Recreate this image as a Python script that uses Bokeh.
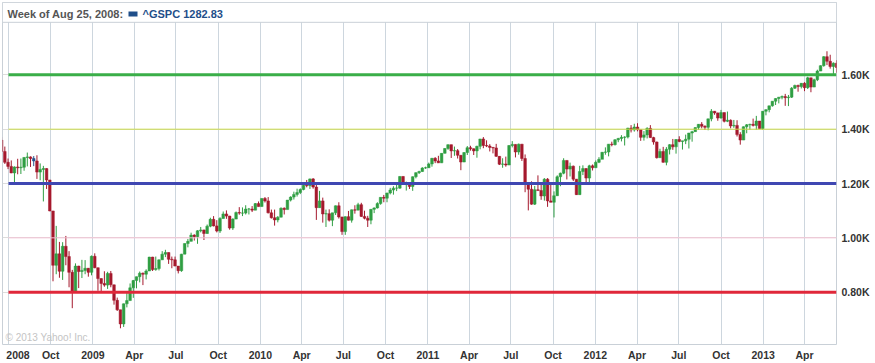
import pandas as pd
from bokeh.plotting import figure
from bokeh.models import (ColumnDataSource, FixedTicker, Label, BoxAnnotation, Range1d)
from bokeh.embed import file_html
from bokeh.resources import INLINE

# ---------------- data: weekly S&P 500 (^GSPC) candles, weeks starting Monday ----------------
first_week = "2008-06-16"

o08 = [1360, 1318, 1278, 1263, 1239, 1261, 1258, 1260, 1296, 1298, 1292, 1283, 1242, 1252, 1255, 1213,
       1099, 899, 941, 877, 969, 931, 873, 800, 896, 876, 880, 888, 873]
h08 = [1371, 1336, 1292, 1285, 1263, 1291, 1292, 1297, 1314, 1300, 1301, 1304, 1274, 1265, 1256, 1213,
       1099, 1044, 985, 984, 1007, 951, 882, 906, 897, 919, 918, 889, 935]
l08 = [1316, 1272, 1253, 1238, 1200, 1234, 1235, 1247, 1263, 1261, 1264, 1217, 1212, 1134, 1180, 1098,
       840, 866, 853, 845, 899, 818, 741, 799, 815, 852, 866, 857, 862]
c08 = [1318, 1278, 1263, 1239, 1261, 1258, 1260, 1296, 1298, 1292, 1283, 1242, 1252, 1255, 1213, 1099,
       899, 941, 877, 969, 931, 873, 800, 896, 876, 880, 888, 873, 932]

o09 = [932, 890, 850, 832, 826, 869, 827, 770, 735, 683, 757, 769, 816, 843, 857, 870, 866, 878, 929, 883,
       887, 919, 940, 946, 921, 919, 896, 879, 940, 979, 987, 1010, 1004, 1026, 1029, 1016, 1043, 1068,
       1044, 1025, 1071, 1088, 1080, 1036, 1069, 1093, 1091, 1091, 1106, 1106, 1102, 1126]
h09 = [943, 890, 851, 877, 875, 878, 827, 780, 735, 758, 804, 832, 845, 857, 876, 872, 884, 930, 930, 931,
       920, 951, 956, 946, 931, 931, 896, 941, 979, 996, 1019, 1013, 1028, 1040, 1030, 1049, 1074, 1080,
       1065, 1076, 1097, 1101, 1081, 1072, 1097, 1113, 1112, 1120, 1110, 1117, 1128, 1134]
l09 = [888, 805, 804, 820, 812, 818, 754, 731, 667, 672, 744, 769, 779, 814, 836, 826, 847, 878, 878, 879,
       880, 919, 929, 904, 888, 896, 869, 875, 940, 965, 987, 990, 978, 1020, 992, 1015, 1039, 1042,
       1020, 1018, 1071, 1070, 1030, 1029, 1069, 1085, 1080, 1086, 1086, 1095, 1102, 1115]
c09 = [890, 850, 832, 826, 869, 827, 770, 735, 683, 757, 769, 816, 843, 857, 870, 866, 878, 929, 883, 887,
       919, 940, 946, 921, 919, 896, 879, 940, 979, 987, 1010, 1004, 1026, 1029, 1016, 1043, 1068, 1044,
       1025, 1071, 1088, 1080, 1036, 1069, 1093, 1091, 1091, 1106, 1106, 1102, 1126, 1115]

o10 = [1115, 1145, 1136, 1092, 1074, 1066, 1076, 1109, 1104, 1139, 1150, 1160, 1167, 1178, 1194, 1192,
       1217, 1187, 1111, 1136, 1088, 1089, 1065, 1092, 1118, 1077, 1023, 1078, 1065, 1103, 1102, 1122,
       1079, 1072, 1065, 1105, 1110, 1126, 1149, 1146, 1165, 1176, 1183, 1183, 1226, 1199, 1200, 1189,
       1225, 1240, 1244, 1257]
h10 = [1145, 1150, 1150, 1104, 1104, 1080, 1112, 1112, 1139, 1153, 1170, 1181, 1182, 1195, 1213, 1218,
       1220, 1197, 1173, 1148, 1104, 1105, 1092, 1119, 1131, 1077, 1079, 1099, 1104, 1120, 1129, 1129,
       1100, 1081, 1105, 1112, 1131, 1149, 1158, 1166, 1184, 1190, 1196, 1227, 1227, 1207, 1205, 1226,
       1241, 1247, 1260, 1262]
l10 = [1115, 1130, 1090, 1071, 1045, 1057, 1076, 1086, 1105, 1134, 1141, 1152, 1161, 1175, 1186, 1180,
       1181, 1066, 1111, 1056, 1040, 1060, 1043, 1084, 1071, 1011, 1011, 1064, 1056, 1089, 1102, 1077,
       1068, 1040, 1050, 1091, 1108, 1122, 1131, 1131, 1160, 1159, 1172, 1181, 1195, 1174, 1180, 1173,
       1219, 1235, 1243, 1254]
c10 = [1145, 1136, 1092, 1074, 1066, 1076, 1109, 1104, 1139, 1150, 1160, 1167, 1178, 1194, 1192, 1217,
       1187, 1111, 1136, 1088, 1089, 1065, 1092, 1118, 1077, 1023, 1078, 1065, 1103, 1102, 1122, 1079,
       1072, 1065, 1105, 1110, 1126, 1149, 1146, 1165, 1176, 1183, 1183, 1226, 1199, 1200, 1189, 1225,
       1240, 1244, 1257, 1258]

o11 = [1258, 1272, 1293, 1283, 1276, 1311, 1329, 1343, 1320, 1321, 1304, 1279, 1314, 1332, 1328, 1320,
       1337, 1364, 1340, 1338, 1333, 1331, 1300, 1271, 1272, 1268, 1340, 1344, 1316, 1345, 1292, 1199,
       1179, 1124, 1177, 1174, 1154, 1216, 1136, 1131, 1155, 1225, 1238, 1285, 1253, 1264, 1216, 1159,
       1244, 1255, 1220, 1265]
h11 = [1277, 1294, 1297, 1302, 1311, 1330, 1344, 1343, 1336, 1327, 1304, 1315, 1338, 1339, 1329, 1339,
       1364, 1371, 1359, 1345, 1334, 1346, 1301, 1293, 1299, 1341, 1356, 1344, 1347, 1345, 1307, 1199,
       1208, 1191, 1230, 1204, 1220, 1220, 1195, 1171, 1230, 1240, 1293, 1285, 1277, 1266, 1216, 1265,
       1267, 1256, 1269, 1270]
l11 = [1257, 1262, 1275, 1276, 1276, 1311, 1324, 1294, 1302, 1292, 1249, 1279, 1305, 1321, 1305, 1295,
       1326, 1330, 1334, 1318, 1311, 1298, 1268, 1258, 1262, 1268, 1333, 1296, 1306, 1283, 1168, 1101,
       1122, 1121, 1174, 1140, 1137, 1114, 1131, 1075, 1155, 1190, 1234, 1215, 1226, 1209, 1158, 1159,
       1231, 1203, 1203, 1248]
c11 = [1272, 1293, 1283, 1276, 1311, 1329, 1343, 1320, 1321, 1304, 1279, 1314, 1332, 1328, 1320, 1337,
       1364, 1340, 1338, 1333, 1331, 1300, 1271, 1272, 1268, 1340, 1344, 1316, 1345, 1292, 1199, 1179,
       1124, 1177, 1174, 1154, 1216, 1136, 1131, 1155, 1225, 1238, 1285, 1253, 1264, 1216, 1159, 1244,
       1255, 1220, 1265, 1258]

o12 = [1258, 1278, 1289, 1315, 1316, 1345, 1343, 1361, 1366, 1370, 1371, 1404, 1397, 1408, 1398, 1370,
       1379, 1403, 1369, 1353, 1295, 1318, 1278, 1326, 1343, 1335, 1362, 1355, 1357, 1363, 1386, 1391,
       1406, 1418, 1411, 1407, 1438, 1466, 1460, 1441, 1461, 1429, 1433, 1412, 1414, 1380, 1360, 1409,
       1416, 1418, 1414, 1430, 1402]
h12 = [1285, 1297, 1316, 1333, 1345, 1354, 1363, 1368, 1378, 1374, 1405, 1415, 1420, 1422, 1398, 1393,
       1407, 1415, 1372, 1354, 1328, 1335, 1334, 1345, 1364, 1363, 1374, 1357, 1380, 1386, 1394, 1406,
       1419, 1426, 1414, 1438, 1474, 1467, 1461, 1471, 1461, 1465, 1436, 1434, 1433, 1389, 1410, 1419,
       1420, 1439, 1449, 1430, 1467]
l12 = [1258, 1275, 1290, 1306, 1300, 1337, 1340, 1352, 1355, 1340, 1366, 1388, 1391, 1392, 1357, 1358,
       1366, 1368, 1343, 1292, 1296, 1277, 1267, 1307, 1324, 1310, 1352, 1325, 1345, 1329, 1354, 1391,
       1398, 1403, 1397, 1396, 1429, 1453, 1431, 1439, 1425, 1426, 1403, 1405, 1373, 1343, 1360, 1385,
       1398, 1410, 1398, 1401, 1398]
c12 = [1278, 1289, 1315, 1316, 1345, 1343, 1361, 1366, 1370, 1371, 1404, 1397, 1408, 1398, 1370, 1379,
       1403, 1369, 1353, 1295, 1318, 1278, 1326, 1343, 1335, 1362, 1355, 1357, 1363, 1386, 1391, 1406,
       1418, 1411, 1407, 1438, 1466, 1460, 1441, 1461, 1429, 1433, 1412, 1414, 1380, 1360, 1409, 1416,
       1418, 1414, 1430, 1402, 1466]

o13 = [1466, 1472, 1486, 1503, 1513, 1518, 1520, 1516, 1518, 1551, 1561, 1557, 1569, 1553, 1589, 1555,
       1582, 1614, 1634, 1667, 1650, 1631, 1643]
h13 = [1473, 1486, 1503, 1514, 1518, 1524, 1530, 1526, 1555, 1564, 1564, 1570, 1573, 1593, 1589, 1586,
       1619, 1635, 1669, 1687, 1674, 1646, 1654]
l13 = [1451, 1462, 1483, 1489, 1495, 1510, 1486, 1485, 1515, 1548, 1538, 1550, 1540, 1548, 1536, 1555,
       1577, 1614, 1630, 1636, 1623, 1598, 1608]
c13 = [1472, 1486, 1503, 1513, 1518, 1520, 1516, 1518, 1551, 1561, 1557, 1569, 1553, 1589, 1555, 1582,
       1614, 1634, 1667, 1650, 1631, 1643, 1627]

highlight_week = "2008-08-25"
header_text = "Week of Aug 25, 2008:"
series_text = "^GSPC 1282.83"

tick_dates = ["2008-07-01", "2008-10-01", "2009-01-01", "2009-04-01", "2009-07-01", "2009-10-01",
              "2010-01-01", "2010-04-01", "2010-07-01", "2010-10-01", "2011-01-01", "2011-04-01",
              "2011-07-01", "2011-10-01", "2012-01-01", "2012-04-01", "2012-07-01", "2012-10-01",
              "2013-01-01", "2013-04-01"]
tick_labels = ["2008", "Oct", "2009", "Apr", "Jul", "Oct", "2010", "Apr", "Jul", "Oct", "2011", "Apr",
               "Jul", "Oct", "2012", "Apr", "Jul", "Oct", "2013", "Apr"]

price_ticks = [800, 1000, 1200, 1400, 1600]
price_tick_labels = ["0.80K", "1.00K", "1.20K", "1.40K", "1.60K"]

level_values = [1600, 1400, 1200, 1000, 800]
level_colors = ["#3aae48", "#cbdc4a", "#3f47b2", "#f3c2d4", "#e0283a"]
level_widths = [3, 1, 3, 1, 3]

# ---------------- assemble ----------------
opens = o08 + o09 + o10 + o11 + o12 + o13
highs = h08 + h09 + h10 + h11 + h12 + h13
lows = l08 + l09 + l10 + l11 + l12 + l13
closes = c08 + c09 + c10 + c11 + c12 + c13
assert len(opens) == len(highs) == len(lows) == len(closes)

weeks = pd.date_range(first_week, periods=len(closes), freq="7D")

UP, DOWN, HILITE = "#2f9e42", "#a5192d", "#24508c"
colors = []
for d, o, c in zip(weeks, opens, closes):
    if d == pd.Timestamp(highlight_week):
        colors.append(HILITE)
    else:
        colors.append(UP if c >= o else DOWN)

src = ColumnDataSource(dict(
    date=weeks, open=opens, high=highs, low=lows, close=closes,
    top=[max(o, c) for o, c in zip(opens, closes)],
    bottom=[min(o, c) for o, c in zip(opens, closes)],
    color=colors))


def ms(d):
    return pd.Timestamp(d).value / 1e6


# pixel calibration of the reference layout
X_A, X_B = ms(tick_dates[0]), ms(tick_dates[-1])
PX_A, PX_B = 8.0, 804.0
FRAME_L, FRAME_R, FRAME_T, FRAME_B = 2.0, 836.0, 2.0, 347.0
kx = (PX_B - PX_A) / (X_B - X_A)
x_start = X_A - (PX_A - FRAME_L) / kx
x_end = X_A + (FRAME_R - PX_A) / kx

ky = 0.274  # px per point
PY_1600 = 75.0
y_end = 1600 + (PY_1600 - FRAME_T) / ky
y_start = 1600 - (FRAME_B - PY_1600) / ky


def xd(px):
    return X_A + (px - PX_A) / kx


def yd(py):
    return 1600 - (py - PY_1600) / ky


W, H = 875, 363
p = figure(width=W, height=H, x_axis_type="datetime", y_axis_location="right",
           x_range=Range1d(x_start, x_end), y_range=Range1d(y_start, y_end),
           output_backend="svg", toolbar_location=None,
           min_border_left=int(FRAME_L), min_border_right=int(W - FRAME_R),
           min_border_top=int(FRAME_T), min_border_bottom=int(H - FRAME_B))
p.background_fill_color = "white"
p.border_fill_color = "white"
p.outline_line_color = "#c9d0d7"
p.outline_line_width = 1

# grids
p.xgrid.grid_line_color = "#cdd6de"
p.ygrid.grid_line_color = "#dcdcdc"

# axes (first label is padded with no-break spaces so it sits inside the page, as in the original)
NBSP = "\u00a0"
p.xaxis.ticker = FixedTicker(ticks=[ms(d) for d in tick_dates])
p.xaxis.major_label_overrides = {ms(d): (lab if i > 0 else NBSP * 2 + lab) for i, (d, lab) in
                                 enumerate(zip(tick_dates, tick_labels))}
p.yaxis.ticker = FixedTicker(ticks=price_ticks)
p.yaxis.major_label_overrides = {v: lab for v, lab in zip(price_ticks, price_tick_labels)}
for ax in (p.xaxis, p.yaxis):
    ax.axis_line_color = None
    ax.major_tick_line_color = None
    ax.minor_tick_line_color = None
    ax.major_tick_out = 0
    ax.major_tick_in = 0
    ax.minor_tick_out = 0
    ax.major_label_text_font = "Liberation Sans"
    ax.major_label_text_font_style = "bold"
    ax.major_label_text_font_size = "10.5px"
    ax.major_label_text_color = "#333333"
p.xaxis.major_label_standoff = 4
p.yaxis.major_label_standoff = 5

# candles
week_ms = 7 * 24 * 3600 * 1000
p.segment(x0="date", y0="low", x1="date", y1="high", source=src, line_color="color", line_width=1)
p.vbar(x="date", top="top", bottom="bottom", width=week_ms * 0.82, source=src,
       fill_color="color", line_color="color", line_width=0.5)

# level lines
for v, col, lw in zip(level_values, level_colors, level_widths):
    p.segment(x0=[X_A], y0=[v], x1=[x_end], y1=[v], line_color=col, line_width=lw)

# header box
p.add_layout(BoxAnnotation(bottom=yd(22), fill_color="white", fill_alpha=1.0,
                           line_color="#c9d0d7", line_width=1, line_alpha=1.0))
p.add_layout(Label(x=xd(7), y=yd(13.5), text=header_text, text_baseline="middle",
                   text_font="Liberation Sans", text_font_style="bold",
                   text_font_size="11px", text_color="#555555"))
p.add_layout(BoxAnnotation(left=xd(128), right=xd(137), top=yd(11), bottom=yd(16),
                           fill_color="#1f4f8a", fill_alpha=1.0, line_color=None))
p.add_layout(Label(x=xd(142), y=yd(13.5), text=series_text, text_baseline="middle",
                   text_font="Liberation Sans", text_font_style="bold",
                   text_font_size="11px", text_color="#1f4f8a"))

# copyright
p.add_layout(Label(x=xd(5), y=yd(340), text="\u00a9 2013 Yahoo! Inc.", text_baseline="middle",
                   text_font="Liberation Sans", text_font_size="10px", text_color="#c4c4c4"))

open("out.html", "w").write(file_html(p, INLINE))
